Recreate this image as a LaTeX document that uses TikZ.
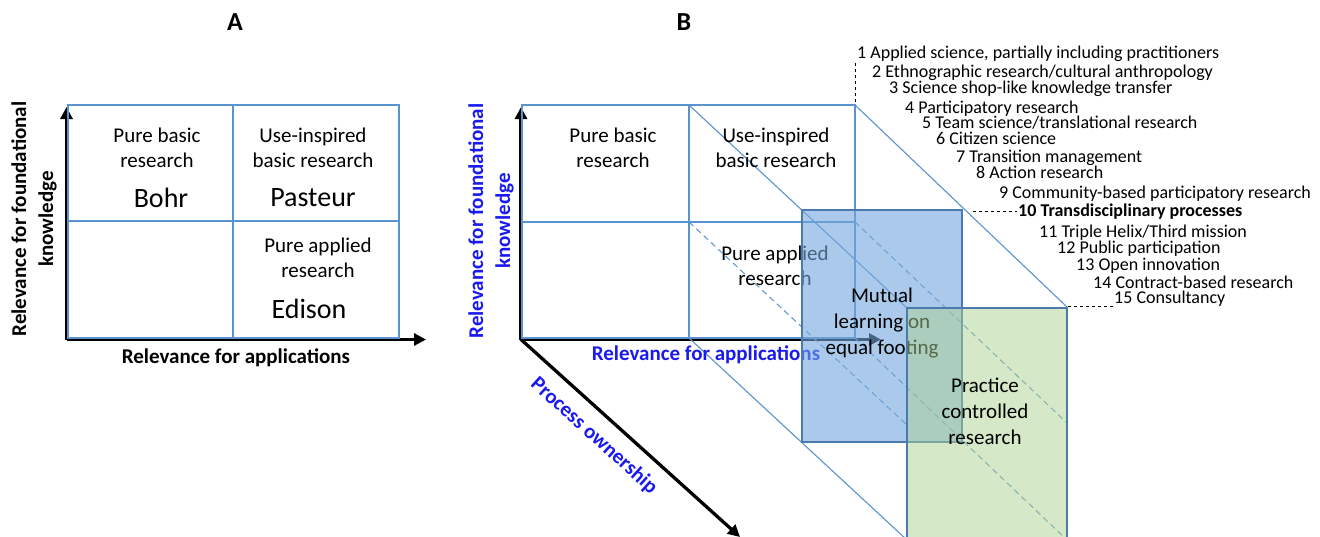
\documentclass[tikz,border=0pt]{standalone}
\usepackage{fontspec}
\setmainfont{Carlito}
\usetikzlibrary{arrows.meta}
\definecolor{gridblue}{RGB}{91,146,208}
\definecolor{edgeblue}{RGB}{74,122,174}
\definecolor{boxblue}{RGB}{115,167,221}
\definecolor{boxgreen}{RGB}{171,209,143}
\definecolor{labblue}{RGB}{25,25,240}

\begin{document}
\begin{tikzpicture}[x=1pt,y=-1pt,
    grid/.style={draw=gridblue,line width=1.1pt},
    hidden/.style={draw=gridblue,line width=1pt,dash pattern=on 6pt off 4pt},
    axis/.style={line width=3.3pt,-{Triangle[length=12pt,width=12pt]}},
    lab/.style={font=\fontsize{21}{25}\selectfont,align=center},
    who/.style={font=\fontsize{28}{32}\selectfont},
    axlab/.style={font=\bfseries\fontsize{21}{27}\selectfont,align=center},
    title/.style={font=\bfseries\fontsize{26}{30}\selectfont},
    item/.style={font=\fontsize{18}{20}\selectfont,anchor=base west,inner sep=0pt},
    lead/.style={dashed,line width=0.8pt}]
    \useasboundingbox (0,0) rectangle (1320,536);

    %%%%% PANEL A %%%%%
    \node[title] (titleA) at (235,22) {A};
    \coordinate (OA) at (66.5,339.5);

    \draw[axis] (OA) -- (66.5,107);
    \draw[axis] (OA) -- (426,339.5);

    \draw[grid] (68,105) rectangle (399,338);
    \draw[grid] (233,105) -- (233,338);
    \draw[grid] (68,221) -- (399,221);

    \node[lab] (basicA) at (157,148) {Pure basic\\research};
    \node[lab] (useA) at (313,148) {Use-inspired\\basic research};
    \node[lab] (appliedA) at (318,258) {Pure applied\\research};
    \node[who] (bohr) at (161,198) {Bohr};
    \node[who] (pasteur) at (313,198) {Pasteur};
    \node[who] (edison) at (309,309) {Edison};

    \node[axlab] (appA) at (236,358) {Relevance for applications};
    \node[axlab,rotate=90] (foundA) at (34,219) {Relevance for foundational\\knowledge};

    %%%%% PANEL B %%%%%
    \node[title] (titleB) at (684,22) {B};
    \coordinate (O) at (521,339.5);

    \draw[axis] (O) -- (521,107);
    \draw[axis] (O) -- (881,339.5);
    \draw[axis] (O) -- (740,537);

    % front face
    \draw[grid] (522,105) rectangle (855,338);
    \draw[grid] (689,105) -- (689,338);
    \draw[grid] (522,222) -- (855,222);

    % depth edges
    \draw[grid] (689,105) -- (907,308);
    \draw[grid] (855,105) -- (1067,307);
    \draw[grid] (689,338) -- (907,540);
    \draw[hidden] (689,222) -- (907,425);
    \draw[hidden] (855,222) -- (1067,423);
    \draw[hidden] (855,338) -- (1067,540);

    \node[lab] (basicB) at (613,148) {Pure basic\\research};
    \node[lab] (useB) at (776,148) {Use-inspired\\basic research};
    \node[lab] (appliedB) at (775,266) {Pure applied\\research};

    \node[axlab,text=labblue] (appB) at (706,355) {Relevance for applications};
    \node[axlab,text=labblue,rotate=90] (foundB) at (491,221) {Relevance for foundational\\knowledge};
    \node[axlab,text=labblue,rotate=-42] (own) at (594,436) {Process ownership};

    % mutual learning slice
    \draw[edgeblue,line width=1.6pt,fill=boxblue,fill opacity=0.6] (802,210) rectangle (962,442);
    \node[lab,font=\fontsize{21}{26}\selectfont] (mutual) at (882,323) {Mutual\\learning on\\equal footing};

    % practice controlled slice
    \draw[edgeblue,line width=1.6pt,fill=boxgreen,fill opacity=0.5] (907,308) rectangle (1067,545);
    \node[lab,font=\fontsize{21}{26}\selectfont] (practice) at (985,411) {Practice\\controlled\\research};

    % list of research modes
    \draw[lead] (855,102) -- (855,62);
    \draw[lead] (973,211) -- (1017,211);
    \draw[lead] (1068,306) -- (1113,306);

    \node[item] (m1) at (857,58) {1 Applied science, partially including practitioners};
    \node[item] (m2) at (872,77) {2 Ethnographic research/cultural anthropology};
    \node[item] (m3) at (889,93) {3 Science shop-like knowledge transfer};
    \node[item] (m4) at (905,113) {4 Participatory research};
    \node[item] (m5) at (922,128) {5 Team science/translational research};
    \node[item] (m6) at (936,144) {6 Citizen science};
    \node[item] (m7) at (956,162) {7 Transition management};
    \node[item] (m8) at (976,178) {8 Action research};
    \node[item] (m9) at (999,198) {9 Community-based participatory research};
    \node[item,font=\bfseries\fontsize{18}{20}\selectfont] (m10) at (1018,216) {10 Transdisciplinary processes};
    \node[item] (m11) at (1039,237) {11 Triple Helix/Third mission};
    \node[item] (m12) at (1057,253) {12 Public participation};
    \node[item] (m13) at (1076,270) {13 Open innovation};
    \node[item] (m14) at (1093,288) {14 Contract-based research};
    \node[item] (m15) at (1114,303) {15 Consultancy};
\end{tikzpicture}
\end{document}
